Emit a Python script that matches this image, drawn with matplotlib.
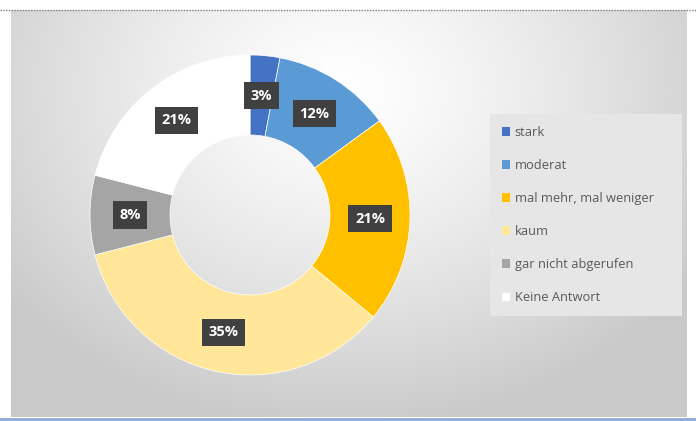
import matplotlib.pyplot as plt
import numpy as np
from matplotlib.patches import Patch

# Antwortkategorien und Anteile in Prozent
categories = ['stark', 'moderat', 'mal mehr, mal weniger', 'kaum',
              'gar nicht abgerufen', 'Keine Antwort']
values = [3, 12, 21, 35, 8, 21]
colors = ['#4472C4', '#5B9BD5', '#FFC000', '#FFE699', '#A5A5A5', '#FFFFFF']

plt.rcParams['font.family'] = ['Open Sans', 'DejaVu Sans']

W, H = 696, 421
fig = plt.figure(figsize=(W / 100, H / 100), dpi=100)
fig.patch.set_facecolor('white')

# Hintergrund mit radialem Verlauf
bg = fig.add_axes([11 / W, 4 / H, 676 / W, 407 / H])
yy, xx = np.mgrid[0:407, 0:676]
d = np.sqrt(((xx - 330) / 420.0) ** 2 + ((yy - 80) / 340.0) ** 2)
shade = 1.0 - 0.21 * np.clip(d, 0, 1.0) ** 1.3
bg.imshow(np.dstack([shade] * 3), aspect='auto', interpolation='bilinear')
bg.set_axis_off()

# Rahmenlinien oben (gepunktet) und unten (blau)
fig.add_artist(plt.Line2D([0, 1], [1 - 9.5 / H, 1 - 9.5 / H], transform=fig.transFigure,
                          color='#808080', lw=1, ls=(0, (1, 1))))
fig.add_artist(plt.Line2D([0, 1], [2.5 / H, 2.5 / H], transform=fig.transFigure,
                          color='#8EA9DB', lw=2))

# Ringdiagramm
ax = fig.add_axes([90 / W, 46 / H, 320 / W, 320 / H])
wedges, texts, autotexts = ax.pie(values, colors=colors, startangle=90, counterclock=False,
                                  radius=1.0, autopct='%.0f%%', pctdistance=0.75,
                                  wedgeprops=dict(width=0.5, edgecolor='white', linewidth=0.5))
for t in autotexts:
    t.set_color('white')
    t.set_fontweight('bold')
    t.set_fontsize(10.5)
    t.set_bbox(dict(facecolor='#404040', edgecolor='none', boxstyle='square,pad=0.45'))
ax.set_xlim(-1, 1)
ax.set_ylim(-1, 1)
ax.set_axis_off()

# Legende rechts
handles = [Patch(facecolor=c, edgecolor='none') for c in colors]
leg = fig.legend(handles, categories, loc='upper left',
                 bbox_to_anchor=(490 / W, 1 - 118 / H, 192 / W, 0.01), mode='expand',
                 fontsize=9.3, labelspacing=1.55, handlelength=0.6, handleheight=0.6,
                 handletextpad=0.35, borderpad=0.95, borderaxespad=0,
                 frameon=True, fancybox=False, labelcolor='#595959')
leg.get_frame().set_facecolor('#E6E6E6')
leg.get_frame().set_edgecolor('none')
leg.get_frame().set_alpha(1)

fig.savefig('out.png', dpi=100)
